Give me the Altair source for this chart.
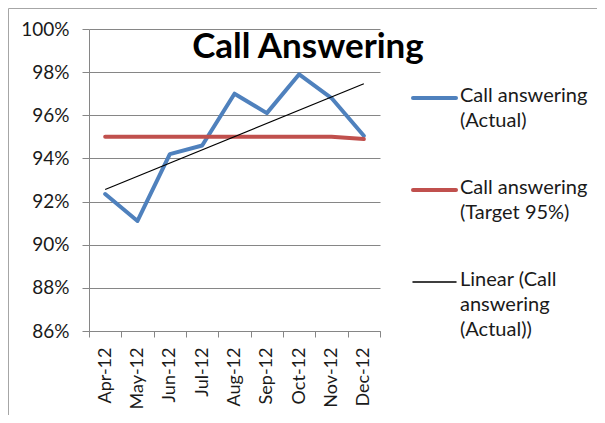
import json
import altair as alt
import pandas as pd

FONT = "Lato"

months = ["Apr-12", "May-12", "Jun-12", "Jul-12", "Aug-12", "Sep-12", "Oct-12", "Nov-12", "Dec-12"]
actual = [0.9235, 0.911, 0.942, 0.946, 0.970, 0.961, 0.979, 0.968, 0.9505]
target = [0.950, 0.950, 0.950, 0.950, 0.950, 0.950, 0.950, 0.950, 0.949]

series_names = [
    "Call answering (Actual)",
    "Call answering (Target 95%)",
    "Linear (Call answering (Actual))",
]
legend_labels = [
    "Call answering|(Actual)",
    "Call answering|(Target 95%)",
    "Linear (Call|answering|(Actual))",
]
series_colors = ["#4F81BD", "#C0504D", "#000000"]
series_widths = [4, 4, 1.2]

y_ticks = [0.86, 0.88, 0.90, 0.92, 0.94, 0.96, 0.98, 1.00]

df_actual = pd.DataFrame({"i": list(range(len(months))), "month": months, "value": actual,
                          "series": series_names[0]})
df_target = pd.DataFrame({"i": list(range(len(months))), "month": months, "value": target,
                          "series": series_names[1]})
legend_df = pd.DataFrame({"series": series_names, "label": legend_labels})

color_scale = alt.Scale(domain=series_names, range=series_colors)
color_enc = alt.Color("series:N", scale=color_scale, legend=None)

x_enc = alt.X(
    "month:O",
    sort=months,
    bandPosition=0.5,
    scale=alt.Scale(type="band", domain=months, paddingInner=0, paddingOuter=0),
    axis=alt.Axis(
        title=None, labelAngle=-90, labelAlign="right", labelBaseline="middle",
        tickBand="extent", tickSize=6, labelPadding=10, grid=False,
        domainColor="#868686", tickColor="#868686",
        labelFont=FONT, labelFontSize=18, labelColor="#1a1a1a",
    ),
)
y_enc = alt.Y(
    "value:Q",
    scale=alt.Scale(domain=[0.86, 1.0], nice=False, zero=False),
    axis=alt.Axis(
        title=None, format=".0%", values=y_ticks, tickSize=7, labelPadding=13,
        grid=True, gridColor="#868686", domainColor="#868686", tickColor="#868686",
        labelFont=FONT, labelFontSize=19, labelColor="#1a1a1a",
    ),
)

actual_line = alt.Chart(df_actual).mark_line(
    strokeJoin="round", strokeCap="round", strokeWidth=series_widths[0]
).encode(x=x_enc, y=y_enc, color=color_enc, order=alt.Order("i:Q"))

target_line = alt.Chart(df_target).mark_line(
    strokeJoin="round", strokeCap="round", strokeWidth=series_widths[1]
).encode(x=x_enc, y=y_enc, color=color_enc, order=alt.Order("i:Q"))

trend = (
    alt.Chart(df_actual)
    .transform_regression("i", "value")
    .transform_calculate(
        month=json.dumps(months) + "[datum.i]",
        series=json.dumps(series_names[2]),
    )
    .mark_line(strokeWidth=series_widths[2])
    .encode(x=x_enc, y=y_enc, color=color_enc, order=alt.Order("i:Q"))
)

title_text = alt.Chart(legend_df.head(1)).mark_text(
    text="Call Answering", font=FONT, fontSize=35, fontWeight="bold", color="#000000",
    align="center", baseline="alphabetic",
).encode(x=alt.value(219), y=alt.value(29))

main = alt.layer(actual_line, target_line, trend, title_text)

ly_scale = alt.Scale(type="point", domain=series_names, range=[69, 253], padding=0)
ly_enc = alt.Y("series:N", scale=ly_scale, axis=None)

legend_rules = [
    alt.Chart(legend_df)
    .transform_filter(alt.datum.series == name)
    .mark_rule(strokeCap="round", strokeWidth=w)
    .encode(x=alt.value(324), x2=alt.value(367), y=ly_enc, color=color_enc)
    for name, w in zip(series_names, [4, 4, 1.5])
]
legend_text = (
    alt.Chart(legend_df)
    .transform_calculate(lines="split(datum.label, '|')")
    .mark_text(align="left", baseline="top", dy=-12, lineHeight=25,
               font=FONT, fontSize=20, color="#1a1a1a")
    .encode(x=alt.value(371), y=ly_enc, text="lines:N")
)

border_top = alt.Chart(legend_df.head(1)).mark_rule(color="#a6a6a6", strokeWidth=1).encode(
    x=alt.value(-80.5), x2=alt.value(600), y=alt.value(-20.5)
)
border_left = alt.Chart(legend_df.head(1)).mark_rule(color="#a6a6a6", strokeWidth=1).encode(
    x=alt.value(-80.5), y=alt.value(-20.5), y2=alt.value(500)
)

legend = alt.layer(*legend_rules, legend_text, border_top, border_left)

chart = (
    alt.layer(main, legend)
    .resolve_scale(y="independent")
    .properties(
        width=291,
        height=302,
        autosize=alt.AutoSizeParams(type="none"),
        padding={"left": 81, "top": 21, "right": 217, "bottom": 84},
    )
    .configure_view(stroke=None)
)

chart.save("out.html", embed_options={"renderer": "svg", "actions": False})
